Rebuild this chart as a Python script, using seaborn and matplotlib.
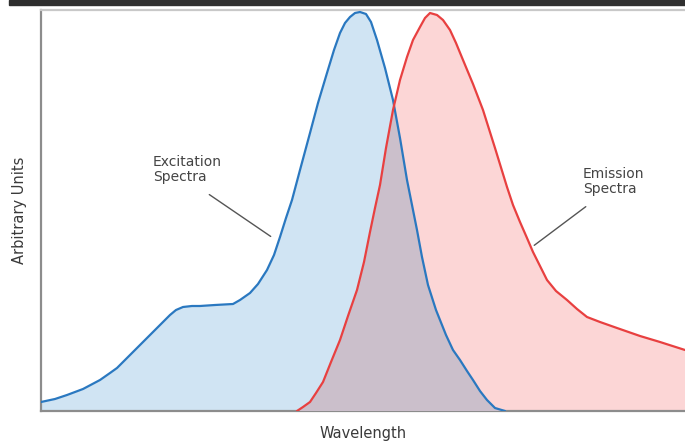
import matplotlib
matplotlib.use("Agg")
import matplotlib.pyplot as plt
from matplotlib.patches import Rectangle
import numpy as np
import pandas as pd
import seaborn as sns

# Spectra (arbitrary wavelength / intensity units)
exc_wl = [0, 14, 26, 42, 59, 69, 76, 84, 92, 101, 109, 119, 129, 135, 142,
          151, 159, 174, 192, 199, 209, 217, 226, 233, 239, 245, 251, 259,
          269, 277, 286, 293, 299, 304, 309, 314, 319, 325, 330, 336, 344,
          352, 359, 366, 371, 376, 381, 387, 395, 405, 412, 419, 426, 432,
          439, 446, 454, 464]
exc_int = [9, 12, 16, 22, 31, 38, 43, 51, 59, 68, 76, 86, 96, 101, 104,
           105, 105, 106, 107, 111, 118, 127, 141, 156, 174, 193, 211, 241,
           278, 308, 338, 361, 378, 388, 394, 398, 399, 397, 389, 371, 343,
           311, 273, 231, 206, 181, 154, 126, 101, 76, 61, 51, 40, 31,
           20, 11, 3, 0]

emi_wl = [256, 262, 269, 275, 282, 290, 299, 307, 316, 323, 329, 334, 339,
          345, 352, 359, 366, 372, 379, 384, 389, 396, 402, 409, 415, 422,
          432, 442, 454, 466, 472, 479, 486, 492, 499, 506, 515, 526, 536,
          546, 559, 576, 599, 619, 644]
emi_int = [0, 4, 9, 18, 29, 49, 71, 95, 121, 149, 179, 203, 226, 263, 301,
           331, 354, 371, 384, 393, 398, 396, 391, 381, 368, 351, 327, 301,
           263, 224, 206, 189, 173, 159, 145, 131, 120, 111, 102, 94, 89,
           83, 75, 69, 61]

x_label = "Wavelength"
y_label = "Arbitrary Units"
exc_text = "Excitation\nSpectra"
emi_text = "Emission\nSpectra"

exc = pd.DataFrame({"wl": exc_wl, "val": exc_int})
emi = pd.DataFrame({"wl": emi_wl, "val": emi_int})

sns.set_style("white")
plt.rcParams["font.family"] = ["DejaVu Sans"]

fig = plt.figure(figsize=(6.85, 4.43), dpi=100)
ax = fig.add_axes([41 / 685, 32 / 443, 644 / 685, 401 / 443])

# filled areas
blue_fill = ax.fill_between(exc["wl"], 0, exc["val"], color="#d0e4f3", lw=0, zorder=1)
ax.fill_between(emi["wl"], 0, emi["val"], color="#fcd6d6", lw=0, zorder=2)
overlap = ax.fill_between(emi["wl"], 0, emi["val"], color="#cbbfcb", lw=0, zorder=3)
overlap.set_clip_path(blue_fill.get_paths()[0], ax.transData)

# outlines
sns.lineplot(data=exc, x="wl", y="val", color="#2a78c0", lw=1.6, sort=False,
             estimator=None, ax=ax, zorder=4)
sns.lineplot(data=emi, x="wl", y="val", color="#e84040", lw=1.6, sort=False,
             estimator=None, ax=ax, zorder=5)

ax.set_xlim(0, 644)
ax.set_ylim(0, 401)
ax.set_xticks([])
ax.set_yticks([])
ax.set_xlabel(x_label, fontsize=10.5, color="#3a3a3a", labelpad=11)
ax.set_ylabel(y_label, fontsize=10.5, color="#3a3a3a", labelpad=10)

# spines
ax.spines["right"].set_visible(False)
ax.spines["left"].set_color("#8c8c8c")
ax.spines["left"].set_linewidth(1.6)
ax.spines["bottom"].set_color("#8c8c8c")
ax.spines["bottom"].set_linewidth(1.6)
ax.spines["top"].set_color("#c8c8c8")
ax.spines["top"].set_linewidth(1.6)

# annotations
ax.text(112, 256, exc_text, fontsize=10, color="#444444", va="top", ha="left",
        linespacing=1.1)
ax.annotate("", xy=(232, 173), xytext=(166, 218),
            arrowprops=dict(arrowstyle="-", color="#555555", lw=1))
ax.text(542, 244, emi_text, fontsize=10, color="#444444", va="top", ha="left",
        linespacing=1.1)
ax.annotate("", xy=(491, 164), xytext=(547, 206),
            arrowprops=dict(arrowstyle="-", color="#555555", lw=1))

# dark strip along the top edge
fig.patches.append(Rectangle((9 / 685, 1 - 4.5 / 443), 1, 4.5 / 443,
                             transform=fig.transFigure, color="#2e2e2e", zorder=10))

fig.savefig("out.png", dpi=100)
